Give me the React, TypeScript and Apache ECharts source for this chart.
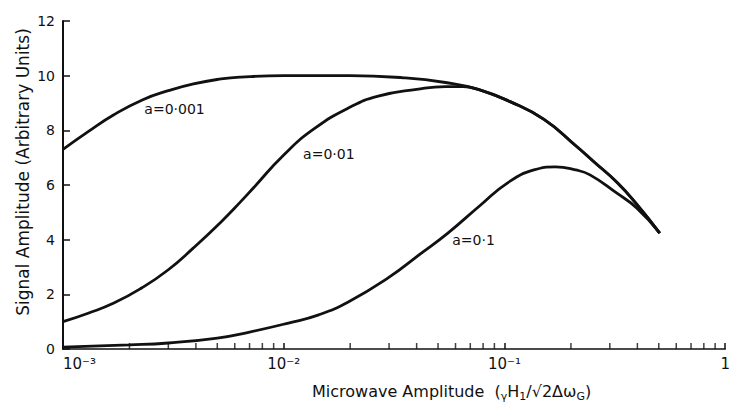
import React, { useEffect, useRef } from "react";
import * as echarts from "echarts";

// Microwave amplitude (x, log scale) vs signal amplitude (y)
const curveA0001: [number, number][] = [
  [0.001, 7.3], [0.0013, 7.95], [0.0017, 8.57], [0.0023, 9.12], [0.003, 9.45],
  [0.0039, 9.7], [0.0052, 9.88], [0.0064, 9.95], [0.01, 10.0], [0.02, 10.0],
  [0.035, 9.92], [0.054, 9.75], [0.076, 9.5], [0.106, 9.05], [0.151, 8.4],
  [0.213, 7.4], [0.254, 6.85], [0.323, 6.1], [0.397, 5.3], [0.505, 4.24],
];
const curveA001: [number, number][] = [
  [0.001, 1.0], [0.0013, 1.31], [0.0017, 1.68], [0.00227, 2.23], [0.003, 2.9],
  [0.0039, 3.7], [0.0052, 4.65], [0.0064, 5.4], [0.0073, 5.9], [0.01, 7.1],
  [0.0137, 8.05], [0.02, 8.85], [0.0268, 9.25], [0.04, 9.5], [0.054, 9.6],
  [0.065, 9.6], [0.076, 9.5], [0.106, 9.05], [0.151, 8.4], [0.213, 7.4],
  [0.254, 6.85], [0.323, 6.1], [0.397, 5.3], [0.505, 4.24],
];
const curveA01: [number, number][] = [
  [0.001, 0.07], [0.002, 0.15], [0.003, 0.22], [0.005, 0.4], [0.007, 0.62],
  [0.0105, 0.95], [0.0144, 1.25], [0.0196, 1.72], [0.0297, 2.6], [0.0419, 3.5],
  [0.0554, 4.24], [0.078, 5.27], [0.103, 6.07], [0.136, 6.55], [0.17, 6.66],
  [0.21, 6.55], [0.244, 6.37], [0.323, 5.7], [0.397, 5.16], [0.505, 4.24],
];

const curveNames = ["a=0·001", "a=0·01", "a=0·1"];
const labelCoords: [number, number][] = [[0.0032, 8.78], [0.016, 7.13], [0.0724, 3.99]];

const xMinorTicks = [
  0.002, 0.003, 0.004, 0.005, 0.006, 0.007, 0.008, 0.009,
  0.02, 0.03, 0.04, 0.05, 0.06, 0.07, 0.08, 0.09,
  0.2, 0.3, 0.4, 0.5, 0.6, 0.7, 0.8, 0.9,
];
const xTickLabels: Record<string, string> = { "0.001": "10⁻³", "0.01": "10⁻²", "0.1": "10⁻¹", "1": "1" };
const yTicks = { min: 0, max: 12, interval: 2 };

const yAxisTitle = "Signal Amplitude (Arbitrary Units)";
const xAxisTitle = "Microwave Amplitude  ({s|γ}H{s|1}/√2Δω{s|G})";

const FONT = "DejaVu Sans";
const INK = "#111";

export default function App() {
  const ref = useRef<HTMLDivElement>(null);
  useEffect(() => {
    if (!ref.current) return;
    const chart = echarts.init(ref.current, undefined, { renderer: "svg" });
    const curves = [curveA0001, curveA001, curveA01];
    const option: any = {
      animation: false,
      backgroundColor: "#fff",
      grid: { left: 63, right: 4, top: 21, bottom: 67, containLabel: false },
      xAxis: {
        type: "log",
        logBase: 10,
        min: 0.001,
        max: 1,
        axisLine: { show: true, lineStyle: { color: INK, width: 1.5 } },
        axisTick: { show: true, inside: true, length: 6, lineStyle: { color: INK, width: 1.5 } },
        minorTick: { show: false },
        splitLine: { show: false },
        axisLabel: {
          fontFamily: FONT,
          fontSize: 15,
          color: INK,
          margin: 7,
          alignMinLabel: "left",
          formatter: (v: number) => xTickLabels[String(+v.toPrecision(3))] ?? "",
        },
      },
      yAxis: {
        type: "value",
        min: yTicks.min,
        max: yTicks.max,
        interval: yTicks.interval,
        axisLine: { show: true, lineStyle: { color: INK, width: 2 } },
        axisTick: { show: true, inside: true, length: 7, lineStyle: { color: INK, width: 1.5 } },
        splitLine: { show: false },
        axisLabel: { fontFamily: FONT, fontSize: 14, color: INK, margin: 8 },
      },
      series: [
        ...curves.map((c, i) => ({
          type: "line",
          name: curveNames[i],
          data: c,
          smooth: 0.5,
          showSymbol: false,
          symbol: "none",
          lineStyle: { color: INK, width: 2.8 },
          silent: true,
          markPoint: {
            symbol: "circle",
            symbolSize: 1,
            itemStyle: { color: "rgba(0,0,0,0)" },
            silent: true,
            label: {
              show: true,
              position: "inside",
              formatter: curveNames[i],
              fontFamily: FONT,
              fontSize: 14,
              color: INK,
            },
            data: [{ coord: labelCoords[i] }],
          },
        })),
        {
          type: "scatter",
          name: "minorTicks",
          data: xMinorTicks.map((x) => [x, 0]),
          symbol: "rect",
          symbolSize: [1.5, 6],
          symbolOffset: [0, -3],
          itemStyle: { color: INK },
          silent: true,
          z: 1,
        },
      ],
      graphic: [
        {
          type: "text",
          x: 23,
          y: 172,
          rotation: Math.PI / 2,
          style: {
            text: yAxisTitle,
            fontFamily: FONT,
            fontSize: 17,
            fill: INK,
            textAlign: "center",
            textVerticalAlign: "middle",
          },
        },
        {
          type: "text",
          x: 312,
          y: 391,
          style: {
            text: xAxisTitle,
            fontFamily: FONT,
            fontSize: 16,
            lineHeight: 22,
            fill: INK,
            textAlign: "left",
            textVerticalAlign: "middle",
            rich: {
              s: { fontSize: 11, lineHeight: 11, verticalAlign: "bottom", fontFamily: FONT, fill: INK },
            },
          },
        },
      ],
    };
    chart.setOption(option);
    return () => chart.dispose();
  }, []);
  return (
    <div
      ref={ref}
      style={{ position: "absolute", left: 0, top: 0, width: 733, height: 416, background: "#fff" }}
    />
  );
}
